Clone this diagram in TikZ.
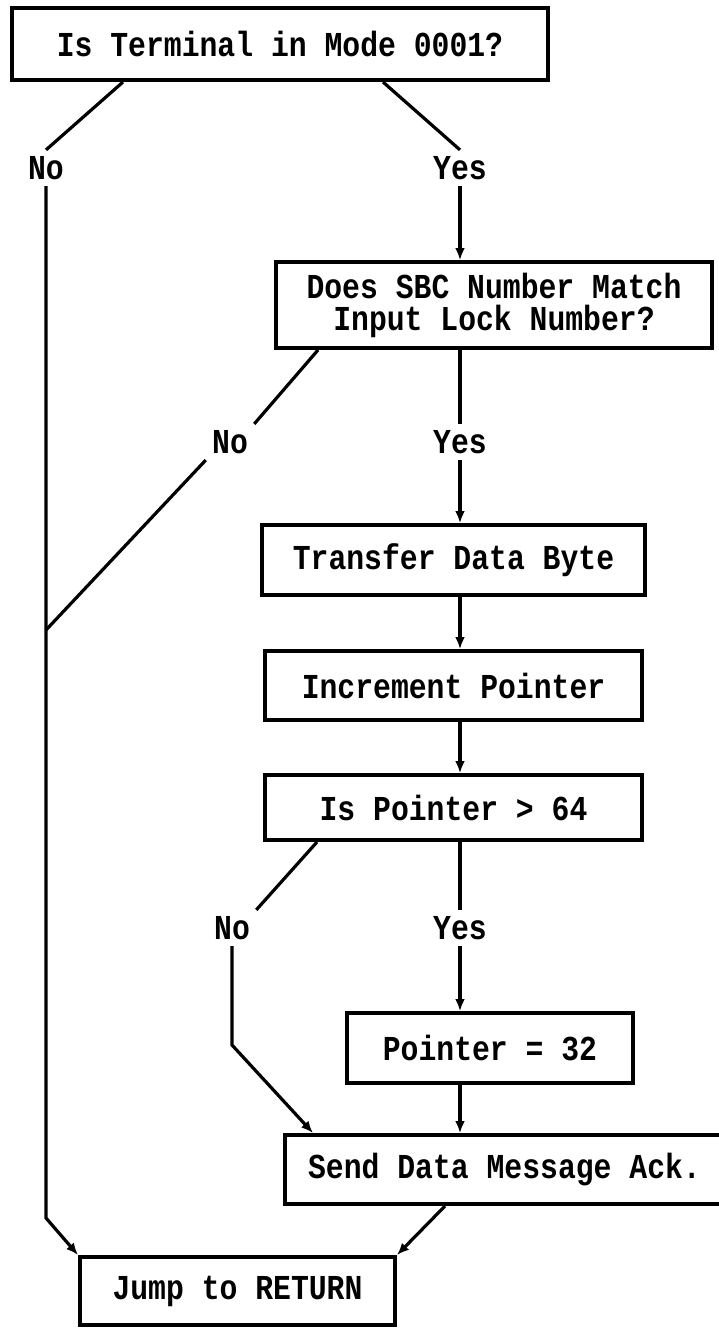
\documentclass[tikz,border=0pt]{standalone}
\usepackage{fontspec}
\usepackage{tikz}
\usetikzlibrary{arrows.meta,positioning,calc}
\newfontfamily\typer{Liberation Mono}[FakeStretch=0.85]

\begin{document}
\begin{tikzpicture}[
    x=0.5pt, y=-0.5pt,
    font=\typer\bfseries\fontsize{17.5}{16}\selectfont,
    >={Latex[length=6pt,width=5pt]},
    box/.style={draw, line width=2pt, align=center, inner sep=2pt},
    lbl/.style={inner sep=3pt},
    line/.style={line width=1.6pt},
    arr/.style={->, line width=1.6pt}
]
    \useasboundingbox (0,0) rectangle (718,1328);

    \node[box, minimum width=268pt, minimum height=36pt] (mode) at (280,44) {Is Terminal in Mode 0001?};
    \node[box, minimum width=218pt, minimum height=43pt] (sbc) at (494,305) {Does SBC Number Match\\Input Lock Number?};
    \node[box, minimum width=191.5pt, minimum height=35pt] (xfer) at (453.5,560) {Transfer Data Byte};
    \node[box, below=26pt of xfer, minimum width=188.5pt, minimum height=34.5pt] (incr) {Increment Pointer};
    \node[box, below=25.5pt of incr, minimum width=188.5pt, minimum height=32.5pt] (test) {Is Pointer > 64};
    \node[box, minimum width=143pt, minimum height=35pt] (reset) at (490,1048) {Pointer = 32};
    \node[box, minimum width=219.5pt, minimum height=34.5pt] (ack) at (504.5,1169.5) {Send Data Message Ack.};
    \node[box, minimum width=157.5pt, minimum height=34pt] (ret) at (237.5,1291) {Jump to RETURN};

    \node[lbl] (no1) at (46,168) {No};
    \node[lbl] (yes1) at (460,168) {Yes};
    \node[lbl] (no2) at (230,442) {No};
    \node[lbl] (yes2) at (460,442) {Yes};
    \node[lbl] (no3) at (232,928) {No};
    \node[lbl] (yes3) at (460,928) {Yes};

    \coordinate (mode-no) at ($(mode.south west)+(113,0)$);
    \coordinate (mode-yes) at ($(mode.south west)+(373,0)$);
    \coordinate (sbc-no) at ($(sbc.south west)+(44,0)$);
    \coordinate (test-no) at ($(test.south west)+(54,0)$);
    \coordinate (ack-no) at ($(ack.north west)+(30,0)$);
    \coordinate (ack-out) at ($(ack.south west)+(162,0)$);
    \coordinate (bend-a) at (46,1218);
    \coordinate (join) at (46,630);
    \coordinate (bend-b) at (232,1045);

    \draw[line] (mode-no) -- (no1.north);
    \draw[arr] (no1.south) -- (bend-a) -- (ret.north west);
    \draw[line] (mode-yes) -- (yes1.north);
    \draw[arr] (yes1.south) -- (sbc.north -| yes1);

    \draw[line] (sbc-no) -- (no2.north east);
    \draw[line] (no2.south west) -- (join);
    \draw[line] (sbc.south -| yes2) -- (yes2.north);
    \draw[arr] (yes2.south) -- (xfer.north -| yes2);
    \draw[arr] (xfer.south -| yes2) -- (incr.north -| yes2);
    \draw[arr] (incr.south -| yes2) -- (test.north -| yes2);

    \draw[line] (test-no) -- (no3.north east);
    \draw[arr] (no3.south) -- (bend-b) -- (ack-no);
    \draw[line] (test.south -| yes3) -- (yes3.north);
    \draw[arr] (yes3.south) -- (reset.north -| yes3);
    \draw[arr] (reset.south -| yes3) -- (ack.north -| yes3);
    \draw[arr] (ack-out) -- (ret.north east);
\end{tikzpicture}
\end{document}
